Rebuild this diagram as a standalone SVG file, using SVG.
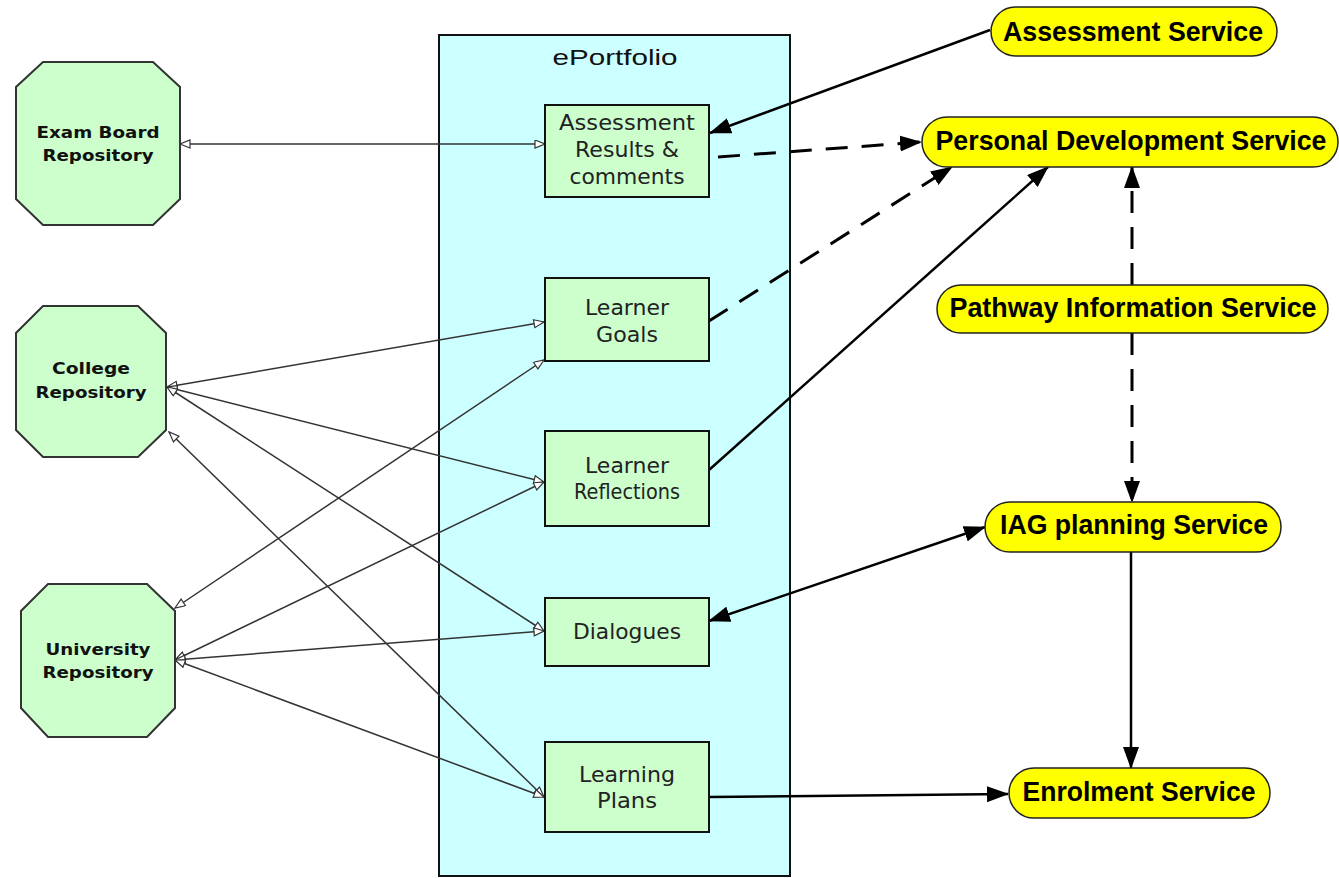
<svg xmlns="http://www.w3.org/2000/svg" width="1339" height="878" viewBox="0 0 1339 878">
<style>
.oct{fill:#CCFFCC;stroke:#333;stroke-width:2}
.box{fill:#CCFFCC;stroke:#111;stroke-width:2}
.pill{fill:#FFFF00;stroke:#222;stroke-width:1.5}
.ot{font-family:"DejaVu Sans",Verdana,sans-serif;font-weight:bold;font-size:16px;fill:#111;text-anchor:middle}
.bt{font-family:"DejaVu Sans",Verdana,sans-serif;font-size:21px;fill:#222;text-anchor:middle}
.pt{font-family:"Liberation Sans",Arial,sans-serif;font-weight:bold;font-size:27px;fill:#000;text-anchor:middle}
.thin{stroke:#333;stroke-width:1.5;fill:none;marker-start:url(#ho);marker-end:url(#ho)}
.thick{stroke:#000;stroke-width:2.5;fill:none}
.dash{stroke-dasharray:22 14;stroke-width:3}
</style>
<defs>
<marker id="ho" markerUnits="userSpaceOnUse" markerWidth="12" markerHeight="10" refX="11" refY="4.5" orient="auto-start-reverse" viewBox="0 0 12 10">
<path d="M1,0.5 L11,4.5 L1,8.5 z" fill="#fff" stroke="#333" stroke-width="1.2"/>
</marker>
<marker id="fa" markerUnits="userSpaceOnUse" markerWidth="22" markerHeight="16" refX="21" refY="8" orient="auto-start-reverse" viewBox="0 0 22 16">
<path d="M0,0 L22,8 L0,16 z" fill="#000"/>
</marker>
</defs>

<g id="eportfolio">
<rect x="439" y="35" width="351" height="841" fill="#CCFFFF" stroke="#111" stroke-width="2"/>
<text x="615" y="65" font-family="Liberation Sans,Arial,sans-serif" font-size="22" fill="#111" text-anchor="middle" textLength="125" lengthAdjust="spacingAndGlyphs">ePortfolio</text>
</g>

<g id="connectors">
<line class="thin" x1="180" y1="144" x2="545" y2="144"/>
<line class="thin" x1="167" y1="387" x2="544" y2="322"/>
<line class="thin" x1="167" y1="387" x2="544" y2="482"/>
<line class="thin" x1="167" y1="387" x2="544" y2="631"/>
<line class="thin" x1="169" y1="432" x2="544" y2="797"/>
<line class="thin" x1="175" y1="608" x2="544" y2="360"/>
<line class="thin" x1="175" y1="660" x2="544" y2="482"/>
<line class="thin" x1="175" y1="660" x2="544" y2="631"/>
<line class="thin" x1="175" y1="660" x2="544" y2="797"/>

<line class="thick" x1="990" y1="30" x2="710" y2="133" marker-end="url(#fa)"/>
<line class="thick dash" x1="718" y1="157" x2="921" y2="142" marker-end="url(#fa)"/>
<line class="thick dash" x1="709" y1="321" x2="952" y2="167" marker-end="url(#fa)"/>
<line class="thick" x1="709" y1="470" x2="1048" y2="167" marker-end="url(#fa)"/>
<line class="thick dash" x1="1132" y1="285" x2="1132" y2="167" stroke-dasharray="30 20" marker-end="url(#fa)"/>
<line class="thick dash" x1="1132" y1="333" x2="1132" y2="502" stroke-dasharray="32 18" marker-end="url(#fa)"/>
<line class="thick" x1="709" y1="621" x2="985" y2="527" marker-start="url(#fa)" marker-end="url(#fa)"/>
<line class="thick" x1="1131" y1="552" x2="1131" y2="768" marker-end="url(#fa)"/>
<line class="thick" x1="709" y1="797" x2="1008" y2="794" marker-end="url(#fa)"/>
</g>

<g id="exam-board">
<polygon class="oct" points="43,62 153,62 180,87 180,199 153,225 43,225 16,199 16,87"/>
<text class="ot" x="98" y="138" textLength="123" lengthAdjust="spacingAndGlyphs">Exam Board</text>
<text class="ot" x="98" y="161" textLength="111" lengthAdjust="spacingAndGlyphs">Repository</text>
</g>
<g id="college">
<polygon class="oct" points="43,306 138,306 166,333 166,430 138,457 43,457 16,430 16,333"/>
<text class="ot" x="91" y="374" textLength="78" lengthAdjust="spacingAndGlyphs">College</text>
<text class="ot" x="91" y="398" textLength="111" lengthAdjust="spacingAndGlyphs">Repository</text>
</g>
<g id="university">
<polygon class="oct" points="48,584 147,584 175,611 175,708 147,737 48,737 21,708 21,611"/>
<text class="ot" x="98" y="655" textLength="105" lengthAdjust="spacingAndGlyphs">University</text>
<text class="ot" x="98" y="678" textLength="111" lengthAdjust="spacingAndGlyphs">Repository</text>
</g>

<g id="assessment-results">
<rect class="box" x="545" y="105" width="164" height="92"/>
<text class="bt" x="627" y="130" textLength="136" lengthAdjust="spacingAndGlyphs">Assessment</text>
<text class="bt" x="627" y="157" textLength="104" lengthAdjust="spacingAndGlyphs">Results &amp;</text>
<text class="bt" x="627" y="184" textLength="115" lengthAdjust="spacingAndGlyphs">comments</text>
</g>
<g id="learner-goals">
<rect class="box" x="545" y="278" width="164" height="83"/>
<text class="bt" x="627" y="315" textLength="84" lengthAdjust="spacingAndGlyphs">Learner</text>
<text class="bt" x="627" y="342" textLength="62" lengthAdjust="spacingAndGlyphs">Goals</text>
</g>
<g id="learner-reflections">
<rect class="box" x="545" y="431" width="164" height="95"/>
<text class="bt" x="627" y="473" textLength="84" lengthAdjust="spacingAndGlyphs">Learner</text>
<text class="bt" x="627" y="499" textLength="106" lengthAdjust="spacingAndGlyphs">Reflections</text>
</g>
<g id="dialogues">
<rect class="box" x="545" y="598" width="164" height="68"/>
<text class="bt" x="627" y="639" textLength="108" lengthAdjust="spacingAndGlyphs">Dialogues</text>
</g>
<g id="learning-plans">
<rect class="box" x="545" y="742" width="164" height="90"/>
<text class="bt" x="627" y="782" textLength="96" lengthAdjust="spacingAndGlyphs">Learning</text>
<text class="bt" x="627" y="808" textLength="60" lengthAdjust="spacingAndGlyphs">Plans</text>
</g>

<g id="assessment-service">
<rect class="pill" x="991" y="7" width="286" height="49" rx="24.5"/>
<text class="pt" x="1133" y="41" textLength="260" lengthAdjust="spacingAndGlyphs">Assessment Service</text>
</g>
<g id="personal-development-service">
<rect class="pill" x="922" y="117" width="416" height="50" rx="25"/>
<text class="pt" x="1131" y="150" textLength="391" lengthAdjust="spacingAndGlyphs">Personal Development Service</text>
</g>
<g id="pathway-information-service">
<rect class="pill" x="937" y="285" width="391" height="48" rx="24"/>
<text class="pt" x="1133" y="317" textLength="367" lengthAdjust="spacingAndGlyphs">Pathway Information Service</text>
</g>
<g id="iag-planning-service">
<rect class="pill" x="985" y="502" width="296" height="50" rx="25"/>
<text class="pt" x="1134" y="534" textLength="268" lengthAdjust="spacingAndGlyphs">IAG planning Service</text>
</g>
<g id="enrolment-service">
<rect class="pill" x="1009" y="768" width="261" height="50" rx="25"/>
<text class="pt" x="1139" y="801" textLength="233" lengthAdjust="spacingAndGlyphs">Enrolment Service</text>
</g>
</svg>
